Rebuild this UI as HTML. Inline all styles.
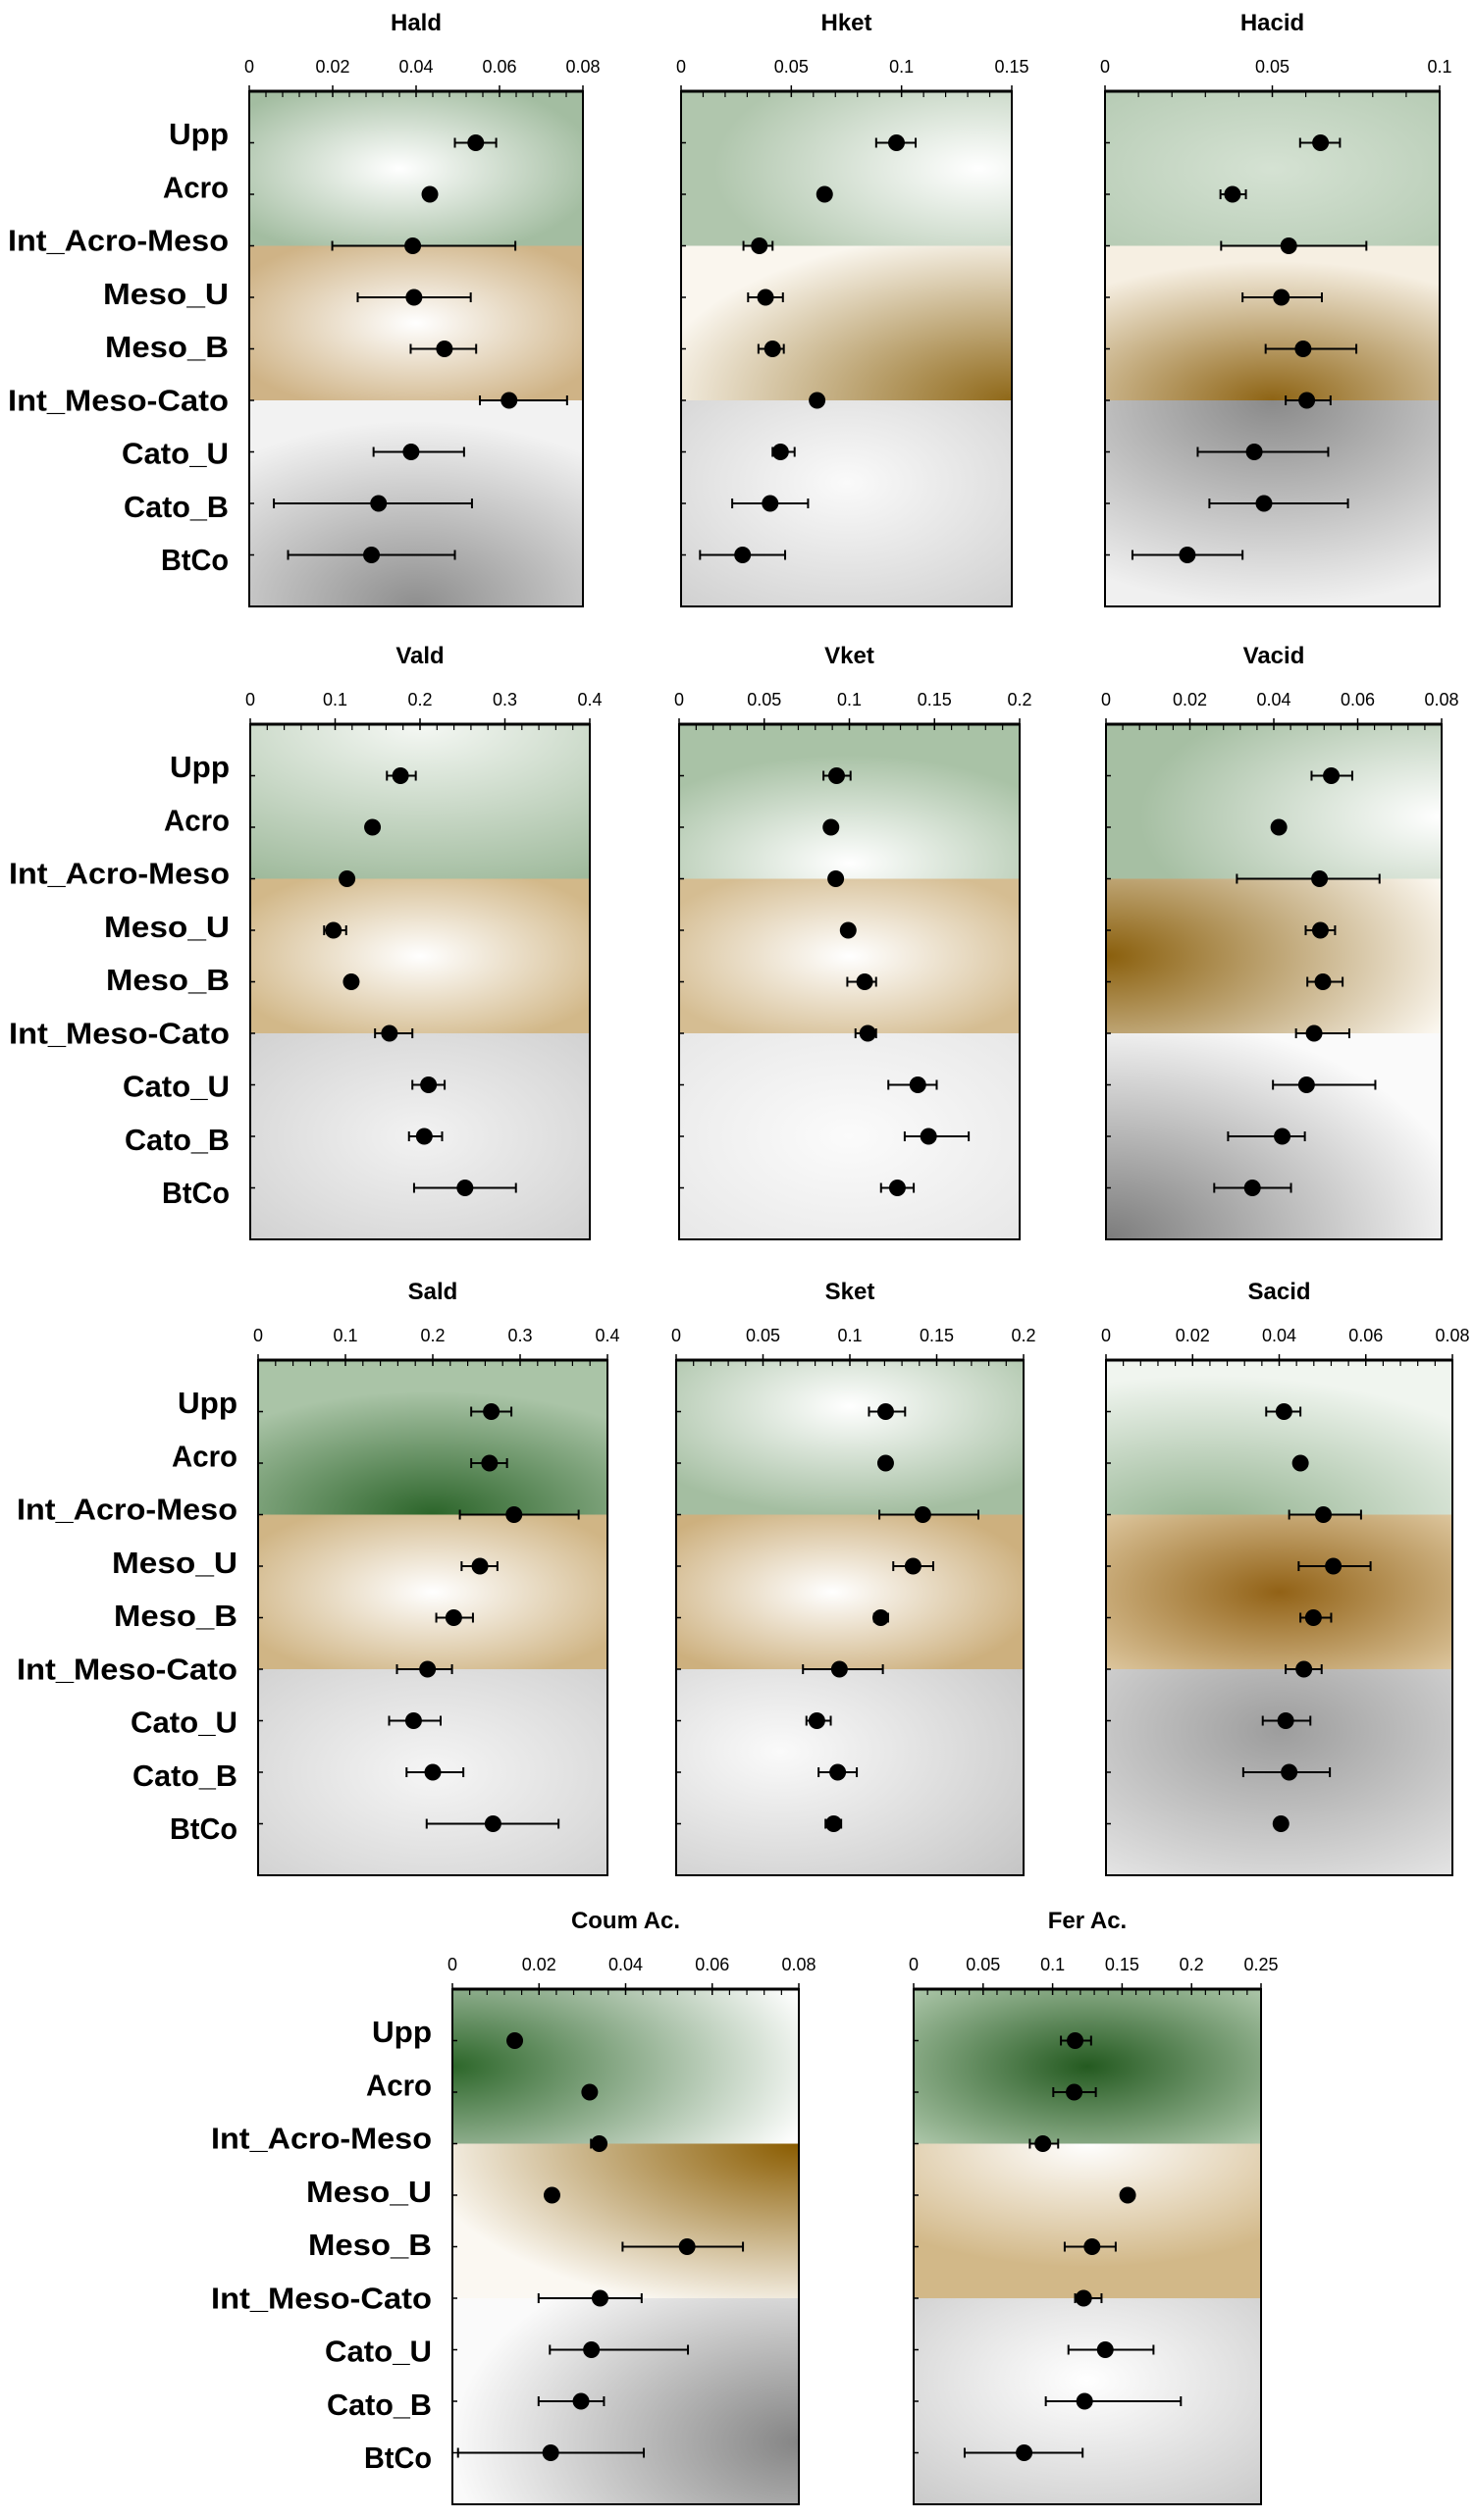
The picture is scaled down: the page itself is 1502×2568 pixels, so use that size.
<!DOCTYPE html>
<html><head><meta charset="utf-8"><title>Dot plots</title>
<style>
html,body{margin:0;padding:0;background:#fff;}
svg{display:block;font-family:"Liberation Sans Narrow","Liberation Sans",sans-serif;}
</style></head>
<body>
<svg id="chart" xmlns="http://www.w3.org/2000/svg" width="1502" height="2568" viewBox="0 0 1502 2568"><defs id="defs"></defs></svg>
<script>
const CATEGORIES = ["Upp","Acro","Int_Acro-Meso","Meso_U","Meso_B","Int_Meso-Cato","Cato_U","Cato_B","BtCo"];

const HALD_MEAN = [0.0543,0.0433,0.0392,0.0395,0.0468,0.0623,0.0388,0.031,0.0293];
const HALD_LO   = [0.0493,0.0433,0.0199,0.026,0.0387,0.0553,0.0298,0.0059,0.0093];
const HALD_HI   = [0.0592,0.0433,0.0638,0.0531,0.0544,0.0762,0.0515,0.0534,0.0493];
const HALD_TICKS = ["0","0.02","0.04","0.06","0.08"];

const HKET_MEAN = [0.0977,0.0651,0.0355,0.0383,0.0415,0.0617,0.0451,0.0404,0.0279];
const HKET_LO   = [0.0885,0.0651,0.0283,0.0304,0.0351,0.0617,0.0415,0.0232,0.0086];
const HKET_HI   = [0.1064,0.0651,0.0415,0.0462,0.0466,0.0617,0.0515,0.0576,0.0472];
const HKET_TICKS = ["0","0.05","0.1","0.15"];

const HACID_MEAN = [0.0644,0.0381,0.0549,0.0527,0.0592,0.0603,0.0446,0.0475,0.0246];
const HACID_LO   = [0.0583,0.0345,0.0347,0.0411,0.048,0.054,0.0277,0.0312,0.0082];
const HACID_HI   = [0.0702,0.0421,0.0781,0.0648,0.0751,0.0674,0.0667,0.0726,0.0411];
const HACID_TICKS = ["0","0.05","0.1"];

const VALD_MEAN = [0.177,0.144,0.114,0.098,0.119,0.164,0.21,0.205,0.253];
const VALD_LO   = [0.161,0.144,0.108,0.087,0.119,0.147,0.191,0.187,0.193];
const VALD_HI   = [0.195,0.144,0.12,0.113,0.119,0.191,0.229,0.226,0.313];
const VALD_TICKS = ["0","0.1","0.2","0.3","0.4"];

const VKET_MEAN = [0.0925,0.0892,0.092,0.0993,0.109,0.1108,0.1402,0.1465,0.1282];
const VKET_LO   = [0.0848,0.0892,0.092,0.0993,0.0988,0.1036,0.1229,0.1325,0.1186];
const VKET_HI   = [0.1007,0.0892,0.092,0.0993,0.1157,0.1157,0.1513,0.1701,0.1378];
const VKET_TICKS = ["0","0.05","0.1","0.15","0.2"];

const VACID_MEAN = [0.0537,0.0412,0.0509,0.0511,0.0517,0.0496,0.0478,0.042,0.0349];
const VACID_LO   = [0.049,0.0412,0.0312,0.0476,0.048,0.0453,0.0398,0.0291,0.0258];
const VACID_HI   = [0.0587,0.0412,0.0652,0.0546,0.0564,0.058,0.0642,0.0474,0.0441];
const VACID_TICKS = ["0","0.02","0.04","0.06","0.08"];

const SALD_MEAN = [0.267,0.265,0.293,0.254,0.224,0.194,0.178,0.2,0.269];
const SALD_LO   = [0.244,0.244,0.231,0.233,0.204,0.159,0.15,0.17,0.193];
const SALD_HI   = [0.29,0.285,0.367,0.274,0.246,0.222,0.209,0.235,0.344];
const SALD_TICKS = ["0","0.1","0.2","0.3","0.4"];

const SKET_MEAN = [0.1206,0.1206,0.142,0.1364,0.1178,0.094,0.081,0.093,0.0907];
const SKET_LO   = [0.111,0.1206,0.117,0.125,0.114,0.073,0.075,0.082,0.086];
const SKET_HI   = [0.1318,0.1206,0.174,0.148,0.122,0.119,0.089,0.104,0.095];
const SKET_TICKS = ["0","0.05","0.1","0.15","0.2"];

const SACID_MEAN = [0.0411,0.0449,0.0502,0.0525,0.0479,0.0457,0.0415,0.0423,0.0404];
const SACID_LO   = [0.037,0.0449,0.0423,0.0445,0.0449,0.0415,0.0362,0.0317,0.0404];
const SACID_HI   = [0.0449,0.0449,0.0589,0.0611,0.052,0.0498,0.0472,0.0517,0.0404];
const SACID_TICKS = ["0","0.02","0.04","0.06","0.08"];

const COUM_MEAN = [0.0144,0.0317,0.0339,0.023,0.0542,0.0341,0.0321,0.0297,0.0227];
const COUM_LO   = [0.0144,0.0317,0.032,0.023,0.0393,0.0199,0.0225,0.0199,0.0013];
const COUM_HI   = [0.0144,0.0317,0.035,0.023,0.0671,0.0437,0.0544,0.035,0.0442];
const COUM_TICKS = ["0","0.02","0.04","0.06","0.08"];

const FER_MEAN = [0.1162,0.1155,0.093,0.154,0.1284,0.1223,0.1379,0.123,0.0795];
const FER_LO   = [0.106,0.1005,0.0836,0.154,0.1087,0.1162,0.1114,0.0951,0.0367];
const FER_HI   = [0.1277,0.1311,0.104,0.154,0.1454,0.1352,0.1726,0.1923,0.1216];
const FER_TICKS = ["0","0.05","0.1","0.15","0.2","0.25"];

const NS = "http://www.w3.org/2000/svg";
const svg = document.getElementById("chart");
const defs = document.getElementById("defs");
function mk(tag, attrs, parent){ const e=document.createElementNS(NS,tag); for(const k in attrs) e.setAttribute(k,attrs[k]); (parent||svg).appendChild(e); return e; }

const LABEL_W = [61,67,225,128,126,225,109,107,69];
const H = 525;

// layout: [title, mean, lo, hi, ticks, x0, x1, top, gradient specs (green, brown, gray)]
const panels = [
 ["Hald",HALD_MEAN,HALD_LO,HALD_HI,HALD_TICKS,254,594,93,[[.45,.5,.6,"#ffffff","#a3bda1"],[.5,.5,.6,"#ffffff","#cfb386"],[.5,1,.9,"#8e8e8e","#f2f2f2"]],true],
 ["Hket",HKET_MEAN,HKET_LO,HKET_HI,HKET_TICKS,694,1031,93,[[.9,.5,.8,"#ffffff","#b0c6ad"],[1,1,1.1,"#8f6818","#faf6ee"],[.5,.4,.8,"#fafafa","#cfcfcf"]],false],
 ["Hacid",HACID_MEAN,HACID_LO,HACID_HI,HACID_TICKS,1126,1467,93,[[.5,.5,.8,"#d5e2d3","#b2c8b0"],[.5,1,.9,"#8e6414","#f6efe2"],[.5,0,1,"#8a8a8a","#f0f0f0"]],false],
 ["Vald",VALD_MEAN,VALD_LO,VALD_HI,VALD_TICKS,255,601,738,[[.5,0,1.1,"#f5f8f4","#9fba9c"],[.5,.5,.6,"#ffffff","#d2b889"],[.5,.5,.8,"#f2f2f2","#cdcdcd"]],true],
 ["Vket",VKET_MEAN,VKET_LO,VKET_HI,VKET_TICKS,692,1039,738,[[.5,.9,.7,"#ffffff","#a9c2a6"],[.5,.5,.6,"#ffffff","#d5bd92"],[.5,.5,.9,"#fbfbfb","#e2e2e2"]],false],
 ["Vacid",VACID_MEAN,VACID_LO,VACID_HI,VACID_TICKS,1127,1469,738,[[1,.6,.9,"#ffffff","#a6bfa3"],[0,.5,1.1,"#8a5f0c","#fbf7ef"],[0,1,1.1,"#7c7c7c","#fafafa"]],false],
 ["Sald",SALD_MEAN,SALD_LO,SALD_HI,SALD_TICKS,263,619,1386,[[.5,1,.8,"#2c652a","#aac4a7"],[.5,.5,.6,"#ffffff","#d0b585"],[.5,.5,.9,"#f5f5f5","#c9c9c9"]],true],
 ["Sket",SKET_MEAN,SKET_LO,SKET_HI,SKET_TICKS,689,1043,1386,[[.5,.3,.7,"#ffffff","#a4bea1"],[.45,.5,.6,"#ffffff","#cdb07e"],[.3,.4,.9,"#fafafa","#c6c6c6"]],false],
 ["Sacid",SACID_MEAN,SACID_LO,SACID_HI,SACID_TICKS,1127,1480,1386,[[.3,1.1,1,"#8fb08c","#f0f5ef"],[.5,.5,.7,"#926216","#dcc59c"],[.5,.3,1,"#9d9d9d","#f0f0f0"]],false],
 ["Coum Ac.",COUM_MEAN,COUM_LO,COUM_HI,COUM_TICKS,461,814,2027,[[0,.5,1.1,"#2d672a","#ffffff"],[1,0,1.1,"#8a5c00","#fbf8f2"],[1,.7,1,"#858585","#fafafa"]],true],
 ["Fer Ac.",FER_MEAN,FER_LO,FER_HI,FER_TICKS,931,1285,2027,[[.5,.5,.7,"#245a20","#acc6a9"],[.5,0,.8,"#ffffff","#d2b888"],[.5,.4,.8,"#ffffff","#c8c8c8"]],false]
];

panels.forEach((p, pi) => {
  const [title, mean, lo, hi, ticks, x0, x1, top, grads, showLabels] = p;
  const slug = title.toLowerCase().replace(/[^a-z]/g,"");
  const g = mk("g", {});
  
  
  const tickVals = ticks.map(Number);
  const xmax = tickVals[tickVals.length-1];
  const xs = v => x0 + (v / xmax) * (x1 - x0);
  const ys = i => top + (i + 1) * H / 10;
  const bottom = top + H;

  // bands
  const bandY = [top, ys(2), ys(5), bottom];
  const bandNames = ["green","brown","gray"];
  for (let b=0;b<3;b++){
    const id = "gr"+pi+"_"+b; const s = grads[b];
    const rg = mk("radialGradient",{id:id,cx:s[0],cy:s[1],r:s[2],fx:s[0],fy:s[1]},defs);
    mk("stop",{offset:"0","stop-color":s[3]},rg);
    mk("stop",{offset:"1","stop-color":s[4]},rg);
    const r = mk("rect",{x:x0,y:bandY[b],width:x1-x0,height:bandY[b+1]-bandY[b],fill:"url(#"+id+")"},g);
    
    
  }

  // title
  const t = mk("text",{x:(x0+x1)/2,y:top-62,"text-anchor":"middle","font-size":"24","font-weight":"bold",fill:"#000"},g);
  t.textContent = title;
  
  

  // x ticks
  const step = tickVals[1]-tickVals[0];
  for (let k=0;k<tickVals.length;k++){
    const v = tickVals[k];
    const tl = mk("text",{x:xs(v),y:top-19,"text-anchor":"middle","font-size":"18",fill:"#000"},g);
    tl.textContent = ticks[k];
    
    
    mk("line",{x1:xs(v),x2:xs(v),y1:top-6,y2:top+6,stroke:"#000","stroke-width":"1.5"},g);
    if (k < tickVals.length-1){
      for (let m=1;m<5;m++){
        const xv = xs(v + step*m/5);
        mk("line",{x1:xv,x2:xv,y1:top,y2:top+6,stroke:"#000","stroke-width":"1.2"},g);
      }
    }
  }

  // frame
  const fr = mk("rect",{x:x0,y:top,width:x1-x0,height:H,fill:"none",stroke:"#000","stroke-width":"2"},g);
  
  
  mk("line",{x1:x0,x2:x1,y1:top,y2:top,stroke:"#000","stroke-width":"3"},g);

  // categories
  CATEGORIES.forEach((c,i)=>{
    const y = ys(i);
    mk("line",{x1:x0,x2:x0+5,y1:y,y2:y,stroke:"#000","stroke-width":"1.5"},g);
    if (showLabels){
      const lb = mk("text",{x:x0-21,y:top+54+i*54.25,"text-anchor":"end","font-size":"31","font-weight":"bold",fill:"#000",textLength:LABEL_W[i],lengthAdjust:"spacingAndGlyphs"},g);
      lb.textContent = c;
      
      
    }
    const eb = mk("g",{},g);
    
    
    mk("line",{x1:xs(lo[i]),x2:xs(hi[i]),y1:y,y2:y,stroke:"#000","stroke-width":"2"},eb);
    mk("line",{x1:xs(lo[i]),x2:xs(lo[i]),y1:y-5,y2:y+5,stroke:"#000","stroke-width":"2"},eb);
    mk("line",{x1:xs(hi[i]),x2:xs(hi[i]),y1:y-5,y2:y+5,stroke:"#000","stroke-width":"2"},eb);
    const dot = mk("circle",{cx:xs(mean[i]),cy:y,r:"8.5",fill:"#000"},g);
    
    
  });
});
</script>
</body></html>
